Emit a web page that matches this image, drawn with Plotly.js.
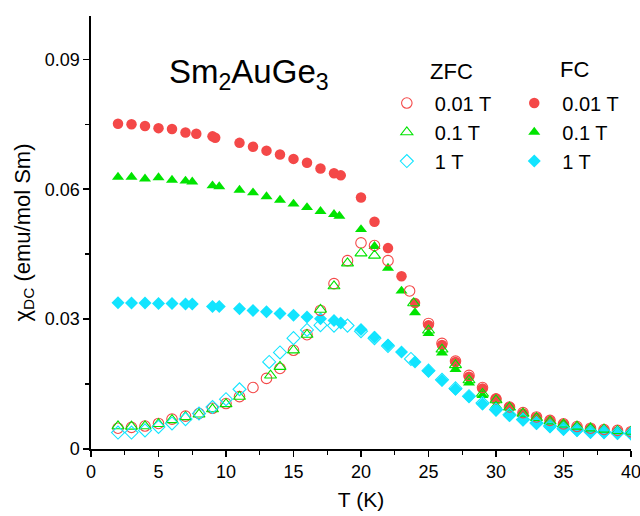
<!DOCTYPE html>
<html>
<head>
<meta charset="utf-8">
<script src="https://cdn.plot.ly/plotly-3.0.1.min.js"></script>
<style>html,body{margin:0;padding:0;background:#fff;}#chart{width:640px;height:516px;}</style>
</head>
<body>
<div id="chart"></div>
<script>
// ---- data ----
// FC, 0.01 T
const T_fc_001 = [2,3,4,5,6,7,7.8,9,9.2,11,12,13,14,15,16,17,18,18.5,20,21,22,23,24,25,26,27,28,29,30,31,32,33,34,35,36,37,38,39,40];
const chi_fc_001 = [0.0751,0.0750,0.0746,0.0741,0.0739,0.0731,0.0728,0.0722,0.0719,0.0707,0.0698,0.0689,0.0680,0.0670,0.0661,0.0648,0.0637,0.0632,0.0581,0.0525,0.0464,0.0399,0.0337,0.0286,0.0240,0.0201,0.0167,0.0140,0.0117,0.0097,0.0082,0.0073,0.0065,0.0057,0.0050,0.0047,0.0044,0.0041,0.0039];
// FC, 0.1 T
const T_fc_01 = [2,3,4,5,6,7,7.5,9,9.5,11,12,13,14,15,16,17,18,18.4,20,21,22,23,24,25,26,27,28,29,30,31,32,33,34,35,36,37,38,39,40];
const chi_fc_01 = [0.0628,0.0628,0.0624,0.0627,0.0621,0.0619,0.0617,0.0608,0.0606,0.0598,0.0592,0.0583,0.0575,0.0566,0.0558,0.0549,0.0542,0.0538,0.0507,0.0468,0.0418,0.0365,0.0315,0.0267,0.0222,0.0184,0.0153,0.0124,0.0100,0.0085,0.0074,0.0066,0.0059,0.0054,0.0049,0.0046,0.0043,0.0040,0.0038];
// FC, 1 T
const T_fc_1 = [2,3,4,5,6,7,7.5,9,9.5,11,12,13,14,15,16,17,18,18.5,20,21,22,23,24,25,26,27,28,29,30,31,32,33,34,35,36,37,38,39,40];
const chi_fc_1 = [0.0338,0.0337,0.0337,0.0336,0.0336,0.0335,0.0335,0.0329,0.0329,0.0324,0.0320,0.0317,0.0313,0.0309,0.0305,0.0301,0.0297,0.0291,0.0276,0.0258,0.0240,0.0224,0.0201,0.0180,0.0159,0.0138,0.0121,0.0104,0.0090,0.0077,0.0067,0.0059,0.0051,0.0045,0.0043,0.0038,0.0038,0.0036,0.0035];
// ZFC, 0.01 T
const T_zfc_001 = [2,3,4,5,6,7,8,9,10,11,12,13,14,15,16,17,18,19,20,21,22,23.6,25,26,27,28,29,30,31,32,33,34,35,36,37,38,39,40];
const chi_zfc_001 = [0.0048,0.0050,0.0053,0.0059,0.0069,0.0076,0.0082,0.0094,0.0105,0.0121,0.0142,0.0163,0.0186,0.0228,0.0264,0.0320,0.0382,0.0435,0.0476,0.0470,0.0435,0.0365,0.0290,0.0244,0.0203,0.0170,0.0142,0.0115,0.0097,0.0084,0.0074,0.0066,0.0058,0.0052,0.0048,0.0045,0.0043,0.0040];
// ZFC, 0.1 T
const T_zfc_01 = [2,3,4,5,6,7,8,9,10,11,13.3,14,15,16,17,18,19,20,21,23.9,25,26,27,28,29,30,31,32,33,34,35,36,37,38,39,40];
const chi_zfc_01 = [0.0053,0.0052,0.0053,0.0058,0.0067,0.0074,0.0080,0.0092,0.0104,0.0121,0.0170,0.0190,0.0228,0.0264,0.0322,0.0376,0.0429,0.0452,0.0447,0.0337,0.0274,0.0230,0.0194,0.0159,0.0128,0.0113,0.0096,0.0082,0.0072,0.0064,0.0057,0.0052,0.0048,0.0045,0.0042,0.0040];
// ZFC, 1 T
const T_zfc_1 = [2,3,4,5,6,7,8,9,10,11,13.2,14,15,16,17,18,19,20,21,22,23.7,25,26,27,28,29,30,31,32,33,34,35,36,37,38,39,40];
const chi_zfc_1 = [0.0038,0.0038,0.0043,0.0051,0.0059,0.0069,0.0082,0.0097,0.0115,0.0138,0.0201,0.0223,0.0256,0.0275,0.0286,0.0285,0.0285,0.0272,0.0256,0.0238,0.0208,0.0181,0.0160,0.0140,0.0122,0.0106,0.0091,0.0079,0.0068,0.0060,0.0053,0.0047,0.0044,0.0040,0.0039,0.0037,0.0036];

const fieldLabels = ['0.01 T', '0.1 T', '1 T'];
const xTickVals = [0,5,10,15,20,25,30,35,40];
const yTickVals = [0,0.03,0.06,0.09];
const yTickText = ['0','0.03','0.06','0.09'];

// ---- styles ----
const RED = '#F44848', GREEN = '#00E400', CYAN = '#12E4FF';
const FONT = 'Liberation Sans, Arial, sans-serif';

function fc(x, y, name, sym, color, size) {
  return {x: x, y: y, name: name, type: 'scatter', mode: 'markers', legend: 'legend2',
    marker: {symbol: sym, color: color, size: size, line: {width: 0}}};
}
function zfc(x, y, name, sym, color, size) {
  return {x: x, y: y, name: name, type: 'scatter', mode: 'markers', legend: 'legend',
    marker: {symbol: sym + '-open', color: color, size: size, line: {width: 1.1, color: color}}};
}

const data = [
  fc(T_fc_001, chi_fc_001, fieldLabels[0], 'circle', RED, 10.5),
  fc(T_fc_01, chi_fc_01, fieldLabels[1], 'triangle-up', GREEN, 10.5),
  fc(T_fc_1, chi_fc_1, fieldLabels[2], 'diamond', CYAN, 10),
  zfc(T_zfc_001, chi_zfc_001, fieldLabels[0], 'circle', RED, 10.5),
  zfc(T_zfc_01, chi_zfc_01, fieldLabels[1], 'triangle-up', GREEN, 10.5),
  zfc(T_zfc_1, chi_zfc_1, fieldLabels[2], 'diamond', CYAN, 10)
];

const axLine = {showline: true, linecolor: '#000', linewidth: 1.6, zeroline: false, showgrid: false};

const layout = {
  width: 640, height: 516,
  margin: {l: 91, r: 9, t: 16, b: 67},
  paper_bgcolor: '#fff', plot_bgcolor: '#fff',
  font: {family: FONT, color: '#000', size: 18},
  showlegend: true,
  xaxis: Object.assign({}, axLine, {
    range: [0, 40], tickvals: xTickVals, ticks: 'outside', ticklen: 6, tickwidth: 1.6, tickcolor: '#000',
    tickfont: {size: 18, family: FONT}, ticklabeloverflow: 'allow',
    minor: {ticks: 'outside', ticklen: 4, tickwidth: 1.4, tickcolor: '#000', dtick: 2.5},
    title: {text: 'T (K)', font: {size: 21, family: FONT}, standoff: 11}
  }),
  yaxis: Object.assign({}, axLine, {
    range: [0, 0.1], tickvals: yTickVals, ticktext: yTickText, ticks: 'outside', ticklen: 6, tickwidth: 1.6, tickcolor: '#000',
    tickfont: {size: 18, family: FONT},
    minor: {ticks: 'outside', ticklen: 4, tickwidth: 1.4, tickcolor: '#000', dtick: 0.015},
    title: {text: 'χ<sub>DC</sub> (emu/mol Sm)', font: {size: 22, family: FONT}, standoff: 8}
  }),
  xaxis2: Object.assign({}, axLine, {
    overlaying: 'x', side: 'top', anchor: 'y', range: [0, 40], tickvals: xTickVals,
    ticks: 'inside', ticklen: 6, tickwidth: 1.6, tickcolor: '#000', showticklabels: false,
    minor: {ticks: 'inside', ticklen: 4, tickwidth: 1.4, tickcolor: '#000', dtick: 2.5}
  }),
  yaxis2: Object.assign({}, axLine, {
    overlaying: 'y', side: 'right', anchor: 'x', range: [0, 0.1], tickvals: yTickVals,
    ticks: 'inside', ticklen: 6, tickwidth: 1.6, tickcolor: '#000', showticklabels: false,
    minor: {ticks: 'inside', ticklen: 4, tickwidth: 1.4, tickcolor: '#000', dtick: 0.015}
  }),
  legend: {x: 0.533, y: 0.844, xanchor: 'left', yanchor: 'top', xref: 'paper', yref: 'paper',
    bgcolor: 'rgba(0,0,0,0)', borderwidth: 0, itemwidth: 46, font: {size: 20, family: FONT},
    traceorder: 'normal', itemclick: false},
  legend2: {x: 0.769, y: 0.844, xanchor: 'left', yanchor: 'top', xref: 'paper', yref: 'paper',
    bgcolor: 'rgba(0,0,0,0)', borderwidth: 0, itemwidth: 46, font: {size: 20, family: FONT},
    traceorder: 'normal', itemclick: false},
  annotations: [
    {text: 'Sm<sub>2</sub>AuGe<sub>3</sub>', xref: 'paper', yref: 'paper', x: 0.293, y: 0.866,
     xanchor: 'center', yanchor: 'middle', showarrow: false, font: {size: 33, family: FONT}},
    {text: 'ZFC', xref: 'paper', yref: 'paper', x: 0.667, y: 0.871,
     xanchor: 'center', yanchor: 'middle', showarrow: false, font: {size: 22, family: FONT}},
    {text: 'FC', xref: 'paper', yref: 'paper', x: 0.896, y: 0.876,
     xanchor: 'center', yanchor: 'middle', showarrow: false, font: {size: 22, family: FONT}}
  ]
};

Plotly.newPlot('chart', data, layout, {displayModeBar: false, staticPlot: true});
</script>
</body>
</html>
